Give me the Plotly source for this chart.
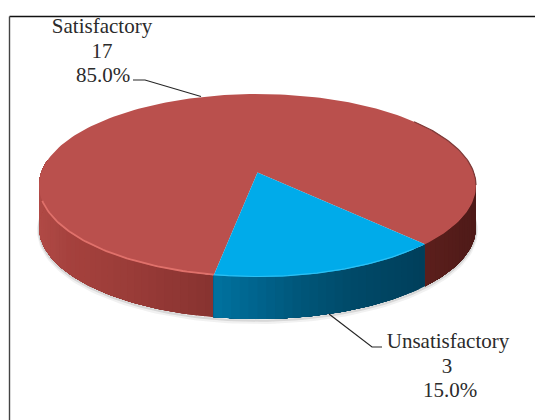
import numpy as np
import plotly.graph_objects as go

categories = ["Satisfactory", "Unsatisfactory"]
values = [17, 3]
top_colors = ["#BA504D", "#00ABEA"]
rim_colors = ["#E0716B", "#2CC0F4"]

FIRST_ANGLE = 190.0
CX, CY, RX, RY = 257.5, 185.5, 218.5, 91.5
PERSPECTIVE = 0.143
DEPTH = 42.0


def project(theta_deg):
    """Pie angle (clockwise from the far side) to canvas position, with perspective."""
    t = np.radians(np.asarray(theta_deg, dtype=float))
    u, v = np.sin(t), np.cos(t)
    den = 1 + PERSPECTIVE * v
    up = u * np.sqrt(1 - PERSPECTIVE ** 2) / den
    vp = (v + PERSPECTIVE) / den
    return CX + RX * up, CY - RY * vp


def hex_rgb(h):
    return np.array([int(h[i:i + 2], 16) for i in (1, 3, 5)], dtype=float)


wall_stops = {
    0: ([39, 70, 130, 214, 424, 476], ["#B04A46", "#A5413D", "#9A3C38", "#873230", "#5C1F1C", "#4E1A18"]),
    1: ([214, 250, 300, 350, 424], ["#00729F", "#006690", "#00567A", "#004A69", "#003F5B"]),
}


def wall_colour(i, x):
    xs, cs = wall_stops[i]
    rgb = [np.interp(x, xs, [hex_rgb(c)[k] for c in cs]) for k in range(3)]
    return "rgb(%d,%d,%d)" % tuple(int(round(c)) for c in rgb)


total = sum(values)
spans = [v / total * 360 for v in values]
starts = [FIRST_ANGLE + sum(spans[:i]) for i in range(len(values))]

fig = go.Figure()


def poly(xs, ys, fill):
    fig.add_trace(go.Scatter(
        x=list(xs), y=list(ys), mode="lines", fill="toself", fillcolor=fill,
        line=dict(color=fill, width=0), hoverinfo="skip", showlegend=False))


# soft shadow under the disc
sx, sy = project(np.linspace(90, 270, 120))
for off, alpha, w in [(3.0, 0.07, 4), (1.5, 0.14, 2.5)]:
    fig.add_trace(go.Scatter(
        x=sx, y=sy + DEPTH + off, mode="lines",
        line=dict(color=f"rgba(60,60,60,{alpha})", width=w),
        hoverinfo="skip", showlegend=False))

# side walls: each band runs past the next band's start so no seams show
STEP = 2.0
wall_ranges = [
    (0, starts[0], starts[0] + 88),                   # left part of the large slice
    (0, starts[0] + spans[0] - 52, starts[0] + spans[0]),  # right part of the large slice
    (1, starts[1], starts[1] + spans[1]),
]
for i, a_from, a_to in wall_ranges:
    edges = np.arange(a_from, a_to + 0.01, STEP)
    for k in range(len(edges) - 1):
        arc = np.linspace(edges[k], edges[-1], 2 + 2 * (len(edges) - 1 - k))
        x, y = project(arc)
        x0, _ = project((edges[k] + edges[k + 1]) / 2)
        poly(np.r_[x, x[::-1]], np.r_[y, y[::-1] + DEPTH], wall_colour(i, x0))

# top faces
apex_x, apex_y = CX, CY - RY * PERSPECTIVE
for i, (start, span) in enumerate(zip(starts, spans)):
    x, y = project(np.linspace(start, start + span, 200))
    poly(np.r_[apex_x, x, apex_x], np.r_[apex_y, y, apex_y], top_colors[i])

# lit front rim of the top face
for a0, a1, i, w in [(starts[0], starts[0] + 62, 0, 1.8), (starts[1] + 4, starts[1] + spans[1], 1, 1.2)]:
    x, y = project(np.linspace(a0, a1, 60))
    fig.add_trace(go.Scatter(x=x, y=y - 0.5, mode="lines",
                             line=dict(color=rim_colors[i], width=w),
                             hoverinfo="skip", showlegend=False))

# shaded far-right edge of the top face
x, y = project(np.linspace(52, 98, 40))
fig.add_trace(go.Scatter(x=x, y=y, mode="lines", line=dict(color="#7E3A38", width=1.2),
                         hoverinfo="skip", showlegend=False))

# leader lines
leader_sat_x = [133, 145, 201]
leader_sat_y = [80, 80, 96.5]
leader_uns_x = [329, 372, 382]
leader_uns_y = [314, 347, 347]
for lx, ly in [(leader_sat_x, leader_sat_y), (leader_uns_x, leader_uns_y)]:
    fig.add_trace(go.Scatter(x=lx, y=ly, mode="lines", line=dict(color="#262626", width=1.2),
                             hoverinfo="skip", showlegend=False))

# labels
label_x = [[102, 102, 103], [448, 447, 450]]
label_y = [[28, 52.5, 77], [343, 367.5, 392]]
for i, (c, v) in enumerate(zip(categories, values)):
    lines = [c, str(v), f"{v / total * 100:.1f}%"]
    fig.add_trace(go.Scatter(
        x=label_x[i], y=label_y[i], mode="text", text=lines, textposition="middle center",
        textfont=dict(family="Liberation Serif", size=21, color="#2b2b2b"),
        hoverinfo="skip", showlegend=False))

frame = dict(type="line", xref="x", yref="y", layer="above")
fig.update_layout(
    width=535, height=420, margin=dict(l=0, r=0, t=0, b=0),
    paper_bgcolor="white", plot_bgcolor="white", showlegend=False,
    xaxis=dict(range=[0, 535], visible=False, fixedrange=True),
    yaxis=dict(range=[420, 0], visible=False, fixedrange=True),
    shapes=[
        dict(frame, x0=9.5, x1=535, y0=16.5, y1=16.5, line=dict(color="#111111", width=1.4)),
        dict(frame, x0=9.5, x1=9.5, y0=16.5, y1=420, line=dict(color="#444444", width=1.4)),
    ],
)

fig.write_html("out.html", config={"displayModeBar": False},
               post_script="document.body.style.margin='0';document.body.style.overflow='hidden';")
